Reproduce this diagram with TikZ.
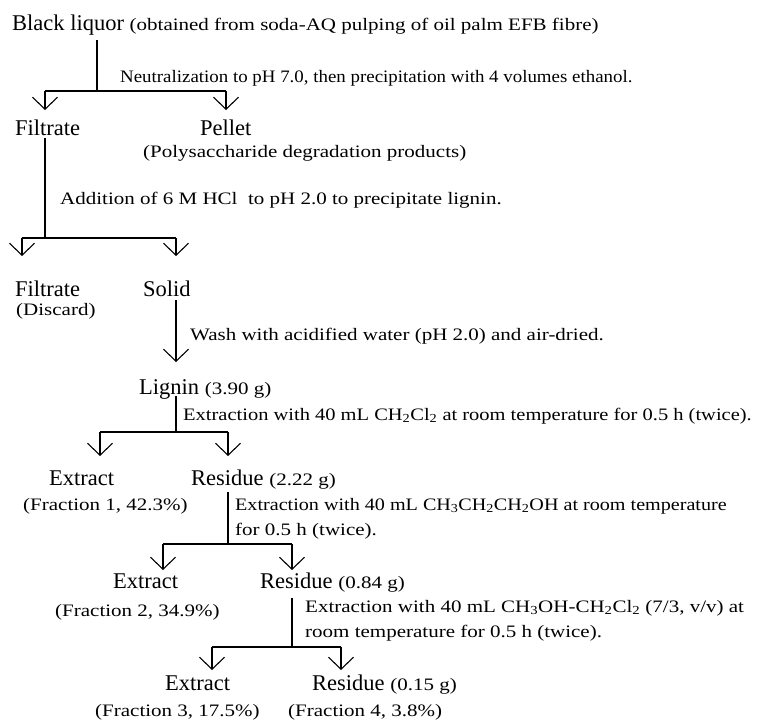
\documentclass[tikz,border=0pt]{standalone}
\usepackage{fontspec}
\setmainfont{Liberation Serif}
\newfontfamily\smf[FakeStretch=1.2]{Liberation Serif}
\newfontfamily\smfn[FakeStretch=1.08]{Liberation Serif}
\newfontfamily\smfm[FakeStretch=1.17]{Liberation Serif}
\newfontfamily\smfk[FakeStretch=1.15]{Liberation Serif}
\usetikzlibrary{arrows.meta}
\newcommand\bigtxt{\fontsize{22.5}{24}\selectfont}
\newcommand\smtxt{\smf\fontsize{17.5}{19}\selectfont}
\newcommand\smtxtn{\smfn\fontsize{17.5}{19}\selectfont}
\newcommand\smtxtm{\smfm\fontsize{17.5}{19}\selectfont}
\newcommand\smtxtk{\smfk\fontsize{17.5}{19}\selectfont}
\newcommand\sbs[1]{\textsubscript{#1}}
\begin{document}
\begin{tikzpicture}[x=1pt,y=-1pt,
  lbl/.style={anchor=base west,inner sep=0pt,font=\smtxt},
  big/.style={anchor=base west,inner sep=0pt,font=\bigtxt},
  ln/.style={line width=1.1pt},
  arr/.style={ln,-{Straight Barb[length=12pt,width=25pt]}}]
\useasboundingbox (0,0) rectangle (764,721);
% texts
\node[big] (bl) at (12,30) {Black liquor {\smtxt (obtained from soda-AQ pulping of oil palm EFB fibre)}};
\node[lbl,font=\smtxtn] (s1) at (120,82) {Neutralization to pH 7.0, then precipitation with 4 volumes ethanol.};
\node[big] (filt1) at (15,135) {Filtrate};
\node[big] (pel) at (200,135) {Pellet};
\node[lbl] (pelc) at (143,157) {(Polysaccharide degradation products)};
\node[lbl] (s2) at (60,204) {Addition of 6 M HCl\ \ to pH 2.0 to precipitate lignin.};
\node[big] (filt2) at (15,296) {Filtrate};
\node[lbl] (disc) at (16,315) {(Discard)};
\node[big] (solid) at (143,296) {Solid};
\node[lbl] (s3) at (190,340) {Wash with acidified water (pH 2.0) and air-dried.};
\node[big] (lig) at (139,394) {Lignin {\smtxt (3.90 g)}};
\node[lbl,font=\smtxtm] (s4) at (183,420) {Extraction with 40 mL CH\sbs{2}Cl\sbs{2} at room temperature for 0.5 h (twice).};
\node[big] (ex1) at (49,485) {Extract};
\node[lbl] (fr1) at (23,510) {(Fraction 1, 42.3\%)};
\node[big] (re1) at (191,485) {Residue {\smtxt (2.22 g)}};
\node[lbl,font=\smtxtk] (s5a) at (235,510) {Extraction with 40 mL CH\sbs{3}CH\sbs{2}CH\sbs{2}OH at room temperature};
\node[lbl] (s5b) at (235,535) {for 0.5 h (twice).};
\node[big] (ex2) at (113,588) {Extract};
\node[lbl] (fr2) at (55,616) {(Fraction 2, 34.9\%)};
\node[big] (re2) at (260,588) {Residue {\smtxt (0.84 g)}};
\node[lbl] (s6a) at (305,612) {Extraction with 40 mL CH\sbs{3}OH-CH\sbs{2}Cl\sbs{2} (7/3, v/v) at};
\node[lbl] (s6b) at (305,637) {room temperature for 0.5 h (twice).};
\node[big] (ex3) at (165,690) {Extract};
\node[lbl] (fr3) at (95,716) {(Fraction 3, 17.5\%)};
\node[big] (re3) at (312,690) {Residue {\smtxt (0.15 g)}};
\node[lbl] (fr4) at (288,716) {(Fraction 4, 3.8\%)};
% junction coordinates
\coordinate (v1) at (97,40);  \coordinate (j1) at (97,91);
\coordinate (j1l) at (45,91); \coordinate (j1r) at (226,91);
\coordinate (t1l) at (45,110); \coordinate (t1r) at (226,110);
\coordinate (v2) at (45,138); \coordinate (j2) at (45,238);
\coordinate (j2l) at (22,238); \coordinate (j2r) at (176,238);
\coordinate (t2l) at (22,256); \coordinate (t2r) at (176,256);
\coordinate (v3) at (176,300); \coordinate (t3) at (176,362);
\coordinate (v4) at (176,396); \coordinate (j4) at (176,432);
\coordinate (j4l) at (100,432); \coordinate (j4r) at (228,432);
\coordinate (t4l) at (100,456); \coordinate (t4r) at (228,456);
\coordinate (v5) at (228,492); \coordinate (j5) at (228,544);
\coordinate (j5l) at (163,544); \coordinate (j5r) at (292,544);
\coordinate (t5l) at (163,570); \coordinate (t5r) at (292,570);
\coordinate (v6) at (292,598); \coordinate (j6) at (292,647);
\coordinate (j6l) at (212,647); \coordinate (j6r) at (341,647);
\coordinate (t6l) at (212,670); \coordinate (t6r) at (341,670);
% connectors
\draw[ln] (v1) -- (j1); \draw[ln] (j1l) -- (j1r);
\draw[arr] (j1l) -- (t1l); \draw[arr] (j1r) -- (t1r);
\draw[ln] (v2) -- (j2); \draw[ln] (j2l) -- (j2r);
\draw[arr] (j2l) -- (t2l); \draw[arr] (j2r) -- (t2r);
\draw[arr] (v3) -- (t3);
\draw[ln] (v4) -- (j4); \draw[ln] (j4l) -- (j4r);
\draw[arr] (j4l) -- (t4l); \draw[arr] (j4r) -- (t4r);
\draw[ln] (v5) -- (j5); \draw[ln] (j5l) -- (j5r);
\draw[arr] (j5l) -- (t5l); \draw[arr] (j5r) -- (t5r);
\draw[ln] (v6) -- (j6); \draw[ln] (j6l) -- (j6r);
\draw[arr] (j6l) -- (t6l); \draw[arr] (j6r) -- (t6r);
\end{tikzpicture}
\end{document}
